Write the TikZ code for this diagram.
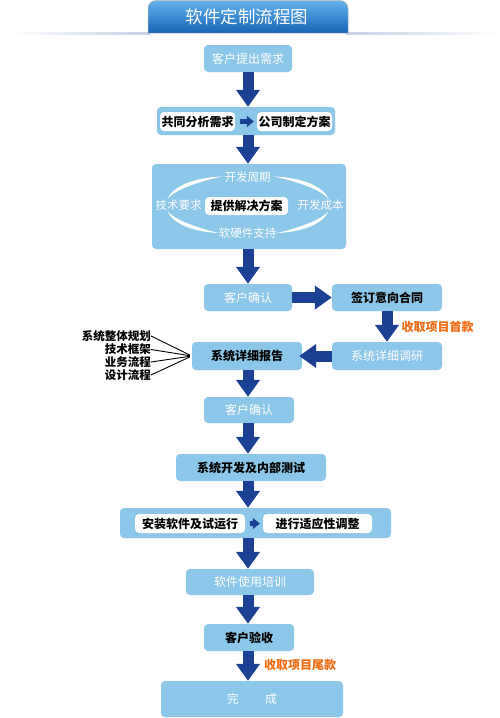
\documentclass[tikz,border=0pt]{standalone}
\usepackage{fontspec}
\setmainfont{Noto Sans CJK SC}
\usetikzlibrary{arrows.meta}
\definecolor{boxblue}{RGB}{140,198,232}
\definecolor{arrowblue}{RGB}{28,64,148}
\definecolor{orangetxt}{RGB}{240,108,18}
\definecolor{titletop}{RGB}{100,178,236}
\definecolor{titlebot}{RGB}{22,100,184}
\definecolor{linegray}{RGB}{196,208,228}
\newcommand\carc[2]{%
  \fill[white] plot[domain=#1:#2,samples=40]
    ({248+(82+2*sin(180*(\x-#1)/(#2-#1)))*cos(\x)},{205-(30+2*sin(180*(\x-#1)/(#2-#1)))*sin(\x)})
  -- plot[domain=#2:#1,samples=40]
    ({248+(82-2*sin(180*(\x-#1)/(#2-#1)))*cos(\x)},{205-(30-2*sin(180*(\x-#1)/(#2-#1)))*sin(\x)})
  -- cycle;}
\begin{document}
\begin{tikzpicture}[x=1pt,y=-1pt,
  bbox/.style={fill=boxblue, rounded corners=4pt, minimum height=27pt, inner sep=0pt},
  wtxt/.style={text=white, font=\fontsize{12}{14}\selectfont},
  ktxt/.style={text=black, font=\fontsize{12}{14}\selectfont\bfseries},
  inbox/.style={fill=white, rounded corners=4pt, minimum height=19pt, inner sep=0pt, text=black, font=\fontsize{12}{14}\selectfont\bfseries},
  cyctxt/.style={text=white, font=\fontsize{11.5}{13}\selectfont, inner sep=0pt},
  bigarrow/.style={draw=arrowblue, line width=11pt, -{Triangle[width=23pt,length=17pt]}},
  smallarrow/.style={draw=arrowblue, line width=5pt, -{Triangle[width=11pt,length=7pt]}, shorten <=4.5pt, shorten >=3pt},
  sidelabel/.style={anchor=east, inner sep=0pt, text=black, font=\fontsize{11.5}{13}\selectfont\bfseries},
  paylabel/.style={inner sep=0pt, text=orangetxt, font=\fontsize{12}{14}\selectfont\bfseries},
  thinline/.style={draw=black, line width=0.9pt, shorten >=2pt}
]
\fill[white] (0,0) rectangle (500,718);
\useasboundingbox (0,0) rectangle (500,718);

% title band
\shade[left color=white, right color=linegray] (10,32) rectangle (150,34.5);
\shade[left color=linegray, right color=white] (346,32) rectangle (500,34.5);
\shade[top color=titletop, bottom color=titlebot, draw=gray!60, line width=0.5pt]
  (148,33) [rounded corners=8pt] -- (148,0.5) -- (348,0.5) [sharp corners] -- (348,33) -- cycle;
\node[text=white, font=\fontsize{17.5}{20}\selectfont, inner sep=0pt] (title) at (247,16.5) {软件定制流程图};

\coordinate (col) at (248,0);

% boxes
\node[bbox, wtxt, minimum width=88pt] (b1) at (248,58.5) {客户提出需求};
\node[bbox, minimum width=178pt, minimum height=28pt] (b2) at (246,121) {};
\node[inbox, minimum width=75pt] (b2a) at (197.5,121.5) {共同分析需求};
\node[inbox, minimum width=75pt] (b2b) at (294.5,121.5) {公司制定方案};

\node[bbox, minimum width=194pt, minimum height=85pt] (b3) at (249,206.5) {};
\carc{108}{168}
\carc{192}{250}
\carc{290}{348}
\carc{12}{72}
\node[cyctxt] (c1) at (247.5,177) {开发周期};
\node[cyctxt] (c2) at (178.5,205) {技术要求};
\node[cyctxt] (c3) at (320.5,205) {开发成本};
\node[cyctxt] (c4) at (247.5,233) {软硬件支持};
\node[inbox, minimum width=83pt, minimum height=18pt] (c0) at (246.5,206) {提供解决方案};

\node[bbox, wtxt, minimum width=88pt] (b4) at (248,297.5) {客户确认};
\node[bbox, ktxt, minimum width=110pt] (b5) at (387,297.5) {签订意向合同};
\node[bbox, wtxt, minimum width=110pt, minimum height=28pt] (b6) at (387,356) {系统详细调研};
\node[bbox, ktxt, minimum width=110pt, minimum height=28pt] (b7) at (247,356) {系统详细报告};
\node[bbox, wtxt, minimum width=90pt, minimum height=26pt] (b8) at (249,410) {客户确认};
\node[bbox, ktxt, minimum width=150pt] (b9) at (251,467.5) {系统开发及内部测试};
\node[bbox, minimum width=271pt, minimum height=30pt] (b10) at (255.5,523) {};
\node[inbox, minimum width=110pt] (b10a) at (190,523.5) {安装软件及试运行};
\node[inbox, minimum width=109pt] (b10b) at (317.5,523.5) {进行适应性调整};
\node[bbox, wtxt, minimum width=128pt, minimum height=26pt] (b11) at (250,582) {软件使用培训};
\node[bbox, ktxt, minimum width=90pt] (b12) at (249,637.5) {客户验收};
\node[bbox, wtxt, minimum width=182pt, minimum height=36pt] (b13) at (252,699) {完\hspace{2.2em}成};

% side labels
\node[sidelabel] (l1) at (151,336) {系统整体规划};
\node[sidelabel] (l2) at (151,349.5) {技术框架};
\node[sidelabel] (l3) at (151,362) {业务流程};
\node[sidelabel] (l4) at (151,375) {设计流程};
\draw[thinline] (l1.east) -- (b7.west);
\draw[thinline] (l2.east) -- (b7.west);
\draw[thinline] (l3.east) -- (b7.west);
\draw[thinline] (l4.east) -- (b7.west);

% payment labels
\node[paylabel] (p1) at (437.5,327) {收取项目首款};
\node[paylabel] (p2) at (300,665) {收取项目尾款};

% arrows
\draw[smallarrow] (b2a.east) -- (b2b.west);
\draw[smallarrow] (b10a.east) -- (b10b.west);
\draw[bigarrow] (b1.south -| col) -- (b2.north -| col);
\draw[bigarrow] (b2.south -| col) -- (b3.north -| col);
\draw[bigarrow] (b3.south -| col) -- (b4.north -| col);
\draw[bigarrow] (b4.east) -- (b5.west);
\draw[bigarrow] (b5.south) -- (b6.north);
\draw[bigarrow] (b6.west) -- ([xshift=-3pt]b7.east);
\draw[bigarrow] (b7.south -| col) -- (b8.north -| col);
\draw[bigarrow] (b8.south -| col) -- (b9.north -| col);
\draw[bigarrow] (b9.south -| col) -- (b10.north -| col);
\draw[bigarrow] (b10.south -| col) -- (b11.north -| col);
\draw[bigarrow] (b11.south -| col) -- (b12.north -| col);
\draw[bigarrow] (b12.south -| col) -- (b13.north -| col);
\end{tikzpicture}
\end{document}
